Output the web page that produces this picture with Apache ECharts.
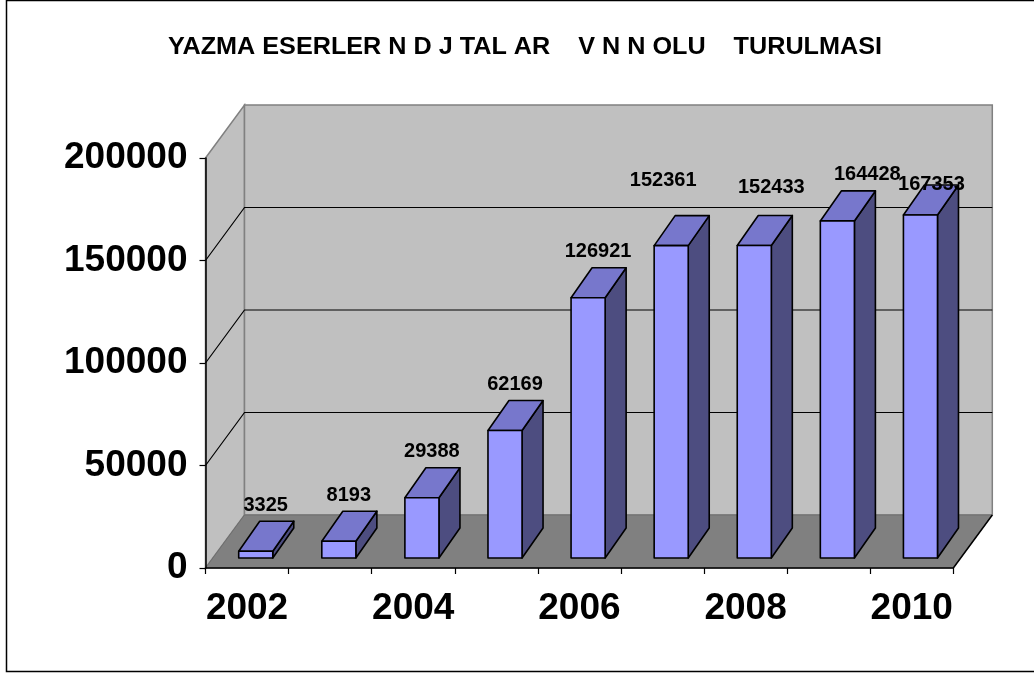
<!DOCTYPE html>
<html><head><meta charset="utf-8">
<script src="https://cdn.jsdelivr.net/npm/echarts@6/dist/echarts.min.js"></script>
<style>html,body{margin:0;padding:0;background:#fff}#c{width:1034px;height:675px}</style>
</head><body><div id="c"></div>
<script>
const chartTitle = 'YAZMA ESERLER N D J TAL AR    V N N OLU    TURULMASI';
const categories = ['2002','2003','2004','2005','2006','2007','2008','2009','2010'];
const values = [3325, 8193, 29388, 62169, 126921, 152361, 152433, 164428, 167353];
const yMin = 0, yMax = 200000, yStep = 50000;
const gridValues = [50000, 100000, 150000];

// layout / style settings (pixels)
const FONT = 'Liberation Sans, Arial, sans-serif';
const DX = 39, DY = -53;           // wall depth projection
const BDX = 21, BDY = -30;         // bar depth projection
const BAR_FRONT_UP = 10, BAR_SHIFT = 8.7;
const LABEL_DX = 10, LABEL_DY = -46;
const labelNudge = [[0, 0], [0, 0], [0, 0], [0, 0], [0, 0], [-18, -19], [7, -12], [20, 0], [1, 16]];

const TITLE_FONT = 'bold 24px ' + FONT;
const TITLE_WIDTH = 714;
const mctx = document.createElement('canvas').getContext('2d');
mctx.font = TITLE_FONT;
const titleScale = TITLE_WIDTH / mctx.measureText(chartTitle).width;

const chart = echarts.init(document.getElementById('c'), null, {renderer: 'canvas'});

function renderWalls(params, api) {
  const cs = params.coordSys;
  const x0 = cs.x, x1 = cs.x + cs.width;
  const yTop = api.coord([0, yMax])[1];
  const yBot = api.coord([0, yMin])[1];
  const ch = [];
  ch.push({type: 'polygon', shape: {points: [[x0, yTop], [x0 + DX, yTop + DY], [x0 + DX, yBot + DY], [x0, yBot]]},
    style: {fill: '#c0c0c0', stroke: '#808080', lineWidth: 1.5}});
  ch.push({type: 'polygon', shape: {points: [[x0 + DX, yTop + DY], [x1 + DX, yTop + DY], [x1 + DX, yBot + DY], [x0 + DX, yBot + DY]]},
    style: {fill: '#c0c0c0', stroke: '#808080', lineWidth: 1.5}});
  gridValues.forEach(v => {
    const y = api.coord([0, v])[1];
    ch.push({type: 'polyline', shape: {points: [[x0, y], [x0 + DX, y + DY], [x1 + DX, y + DY]]},
      style: {stroke: '#000', lineWidth: 1.2, fill: null}});
  });
  ch.push({type: 'polygon', shape: {points: [[x0, yBot], [x0 + DX, yBot + DY], [x1 + DX, yBot + DY], [x1, yBot]]},
    style: {fill: '#808080', stroke: '#6e6e6e', lineWidth: 1}});
  ch.push({type: 'line', shape: {x1: x1, y1: yBot, x2: x1 + DX, y2: yBot + DY}, style: {stroke: '#000', lineWidth: 1.5}});
  return {type: 'group', children: ch};
}

function renderBar(params, api) {
  const i = api.value(0), v = api.value(1);
  const base = api.coord([i, 0]);
  const top = api.coord([i, v]);
  const band = api.size([1, 0])[0];
  const w = band * 0.41;
  const fx0 = base[0] - w / 2 + BAR_SHIFT, fx1 = fx0 + w;
  const fyB = base[1] - BAR_FRONT_UP, fyT = top[1] - BAR_FRONT_UP;
  const st = {stroke: '#000', lineWidth: 1.6, lineJoin: 'round'};
  const nudge = labelNudge[params.dataIndex] || [0, 0];
  return {type: 'group', children: [
    {type: 'polygon', shape: {points: [[fx1, fyT], [fx1 + BDX, fyT + BDY], [fx1 + BDX, fyB + BDY], [fx1, fyB]]},
      style: Object.assign({fill: '#4d4d80'}, st)},
    {type: 'polygon', shape: {points: [[fx0, fyT], [fx0 + BDX, fyT + BDY], [fx1 + BDX, fyT + BDY], [fx1, fyT]]},
      style: Object.assign({fill: '#7777cc'}, st)},
    {type: 'rect', shape: {x: fx0, y: fyT, width: w, height: fyB - fyT},
      style: Object.assign({fill: '#9999ff'}, st)},
    {type: 'text', x: (fx0 + fx1) / 2 + LABEL_DX + nudge[0], y: fyT + LABEL_DY + nudge[1], z2: 10,
      style: {text: String(v), fill: '#000', font: 'bold 20px ' + FONT, align: 'center', verticalAlign: 'middle'}}
  ]};
}

chart.setOption({
  animation: false,
  backgroundColor: '#fff',
  graphic: [
    {type: 'rect', shape: {x: 6.5, y: 0.5, width: 1040, height: 671},
      style: {fill: null, stroke: '#000', lineWidth: 1.5}, z: 100},
    {type: 'text', x: 525, y: 47, scaleX: titleScale, z: 100,
      style: {text: chartTitle, font: TITLE_FONT, fill: '#000', align: 'center', verticalAlign: 'middle'}}
  ],
  grid: {left: 205.5, right: 80.7, top: 158, bottom: 107, containLabel: false, outerBoundsMode: 'none'},
  xAxis: {type: 'category', data: categories, boundaryGap: true,
    axisLine: {lineStyle: {color: '#000', width: 1.5}, onZero: false},
    axisTick: {show: true, interval: 0, length: 6, lineStyle: {color: '#000', width: 1.2}},
    axisLabel: {interval: 1, margin: 22, color: '#000', fontFamily: FONT, fontWeight: 'bold', fontSize: 37},
    splitLine: {show: false}, z: 10},
  yAxis: {type: 'value', min: yMin, max: yMax, interval: yStep,
    axisLine: {show: true, lineStyle: {color: '#000', width: 1.5}},
    axisTick: {show: true, length: 6, lineStyle: {color: '#000', width: 1.2}},
    axisLabel: {margin: 18, color: '#000', fontFamily: FONT, fontWeight: 'bold', fontSize: 37,
      formatter: v => String(v)},
    splitLine: {show: false}, z: 10},
  series: [
    {type: 'custom', name: 'walls', data: [[0, 0]], renderItem: renderWalls, silent: true, z: 1, clip: false},
    {type: 'custom', name: 'bars', data: values.map((v, i) => [i, v]), renderItem: renderBar, z: 2, clip: false,
      encode: {x: 0, y: 1}}
  ]
});
</script></body></html>
